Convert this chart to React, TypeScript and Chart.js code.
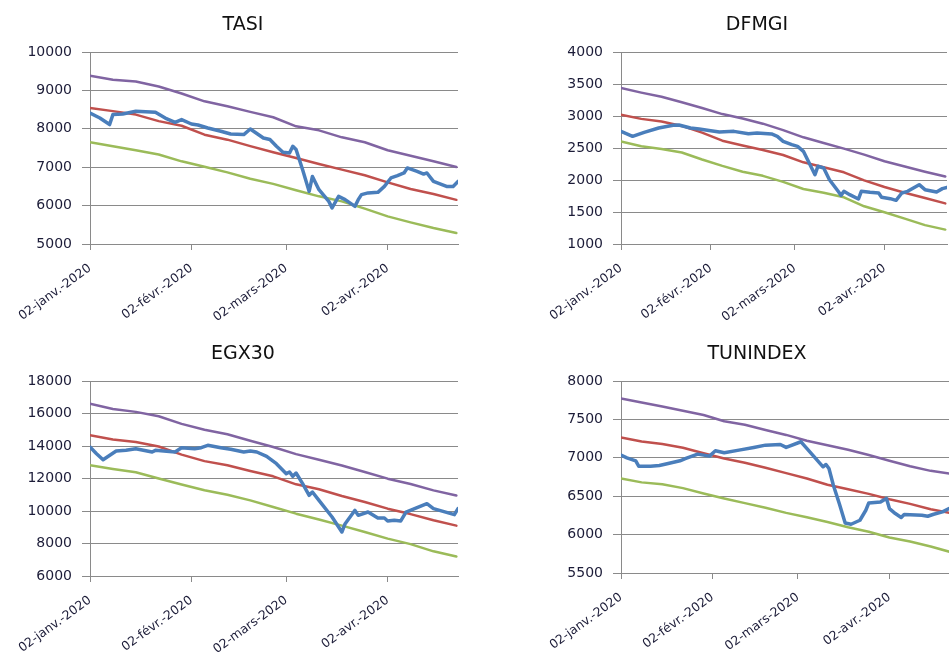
import React, { useEffect, useRef } from 'react';
import { Chart, registerables } from 'chart.js';

Chart.register(...registerables);

// ---- shared axis data ----
// x values are days counted from 02-janv.-2020
const TICK_DAYS = [0, 31, 60, 91];
const TICK_LABELS = ['02-janv.-2020', '02-févr.-2020', '02-mars-2020', '02-avr.-2020'];
const BAND_DAYS = [0, 7, 14, 21, 28, 35, 42, 49, 56, 63, 70, 77, 84, 91, 98, 105, 112];

// ---- TASI ----
const TASI_DAYS = [0, 3, 6, 7, 10, 14, 20, 23, 26, 28, 31, 33, 36, 40, 43, 47, 49, 53, 55, 57, 59, 61, 62, 63, 65, 67, 68, 70, 73, 74, 76, 78, 81, 82, 83, 85, 88, 90, 92, 94, 96, 97, 100, 102, 103, 105, 109, 111, 112.5];
const TASI_CLOSE = [8410, 8280, 8110, 8370, 8385, 8455, 8430, 8280, 8170, 8240, 8125, 8100, 8020, 7935, 7865, 7850, 7995, 7760, 7720, 7545, 7390, 7370, 7545, 7460, 6935, 6370, 6760, 6415, 6110, 5940, 6240, 6155, 5980, 6155, 6285, 6330, 6345, 6500, 6720, 6780, 6850, 6980, 6890, 6820, 6850, 6630, 6500, 6500, 6630];
const TASI_UPPER = [9384, 9280, 9230, 9100, 8920, 8715, 8585, 8440, 8300, 8064, 7960, 7778, 7650, 7440, 7300, 7153, 7005];
const TASI_MID = [8542, 8460, 8370, 8200, 8080, 7847, 7717, 7550, 7390, 7240, 7083, 6936, 6790, 6606, 6432, 6302, 6150];
const TASI_LOWER = [7648, 7545, 7440, 7330, 7153, 7010, 6866, 6700, 6565, 6400, 6241, 6110, 5920, 5720, 5564, 5417, 5286];

// ---- DFMGI ----
const DFMGI_DAYS = [0, 4, 5, 8, 13, 18, 20, 24, 27, 31, 34, 39, 44, 47, 52, 54, 56, 59, 61, 63, 65, 67, 68, 70, 72, 75, 76, 77, 79, 82, 83, 86, 89, 90, 93, 95, 97, 99, 101, 103, 105, 109, 111, 112.6];
const DFMGI_CLOSE = [2760, 2682, 2698, 2745, 2812, 2854, 2859, 2812, 2797, 2771, 2750, 2760, 2724, 2734, 2719, 2682, 2604, 2552, 2526, 2448, 2266, 2083, 2214, 2188, 2005, 1823, 1760, 1823, 1771, 1703, 1823, 1807, 1797, 1729, 1708, 1682, 1797, 1823, 1875, 1927, 1849, 1813, 1865, 1885];
const DFMGI_UPPER = [3437, 3365, 3300, 3215, 3125, 3030, 2960, 2880, 2780, 2667, 2578, 2490, 2396, 2292, 2210, 2130, 2055];
const DFMGI_MID = [3021, 2955, 2915, 2845, 2740, 2614, 2540, 2470, 2390, 2276, 2200, 2120, 1995, 1891, 1800, 1719, 1635];
const DFMGI_LOWER = [2604, 2526, 2484, 2430, 2320, 2220, 2130, 2065, 1970, 1859, 1800, 1730, 1589, 1495, 1396, 1295, 1225];

// ---- EGX30 ----
const EGX_DAYS = [0, 2, 4, 8, 11, 14, 19, 20, 26, 28, 32, 34, 36, 40, 43, 47, 49, 51, 54, 57, 60, 61, 62, 63, 65, 67, 68, 70, 74, 77, 78, 81, 82, 85, 88, 90, 91, 93, 95, 96.6, 103, 105, 111.4, 112.5];
const EGX_CLOSE = [13938, 13528, 13159, 13692, 13733, 13836, 13631, 13733, 13631, 13897, 13836, 13897, 14041, 13897, 13795, 13631, 13692, 13631, 13364, 12913, 12297, 12400, 12133, 12338, 11682, 10964, 11169, 10656, 9631, 8708, 9220, 10041, 9733, 9938, 9569, 9569, 9385, 9426, 9385, 9938, 10451, 10144, 9774, 10144];
const EGX_UPPER = [16605, 16280, 16100, 15830, 15360, 15000, 14720, 14320, 13938, 13500, 13150, 12800, 12400, 11990, 11660, 11270, 10950];
const EGX_MID = [14656, 14400, 14250, 13970, 13470, 13070, 12810, 12461, 12133, 11641, 11340, 10923, 10554, 10144, 9810, 9426, 9100];
const EGX_LOWER = [12810, 12580, 12380, 12000, 11630, 11272, 11000, 10656, 10250, 9836, 9480, 9100, 8708, 8300, 7960, 7518, 7200];

// ---- TUNINDEX ----
const TUN_DAYS = [0, 2, 5, 6, 10, 13, 16, 20, 22, 26, 30, 32, 35, 40, 45, 49, 54, 56, 61, 62, 65, 68.5, 69.5, 70.5, 72, 74, 76, 78, 81, 83, 84, 88, 90, 91, 93, 95, 96, 102, 104, 106, 109, 111.2];
const TUN_CLOSE = [7035, 7000, 6961, 6891, 6891, 6900, 6926, 6961, 6991, 7048, 7022, 7091, 7065, 7100, 7135, 7165, 7174, 7135, 7209, 7165, 7035, 6883, 6913, 6861, 6643, 6404, 6152, 6135, 6187, 6317, 6413, 6426, 6470, 6339, 6274, 6222, 6261, 6252, 6239, 6265, 6296, 6339];
const TUN_UPPER = [7774, 7720, 7668, 7613, 7557, 7475, 7430, 7362, 7298, 7222, 7163, 7105, 7036, 6962, 6890, 6830, 6790];
const TUN_MID = [7265, 7212, 7180, 7130, 7060, 6990, 6935, 6870, 6800, 6730, 6650, 6590, 6530, 6460, 6400, 6330, 6280];
const TUN_LOWER = [6730, 6680, 6655, 6605, 6535, 6470, 6410, 6350, 6283, 6225, 6163, 6096, 6038, 5962, 5910, 5845, 5770];

const FONT = "'DejaVu Sans', sans-serif";
const GRID = '#8a8a8a';
const TEXT = '#1c1c38';
const BLUE = '#4a7ebb';
const RED = '#c0504d';
const PURPLE = '#8064a2';
const GREEN = '#9bbb59';

type Spec = {
  title: string;
  days: number[];
  close: number[];
  upper: number[];
  mid: number[];
  lower: number[];
  yMin: number;
  yMax: number;
  yStep: number;
  xMax: number;
  left: number;
  top: number;
  w: number;
  h: number;
  padLeft: number;
  plotLeft: number;
  plotRight: number;
  plotTop: number;
  plotBottom: number;
  titleCenterY: number;
};

const TITLE_SIZE = 19;
const TITLE_LH = 1.2;

function Panel({ spec }: { spec: Spec }) {
  const ref = useRef<HTMLCanvasElement | null>(null);
  useEffect(() => {
    const pts = (d: number[], v: number[]) => d.map((x, i) => ({ x, y: v[i] }));
    const titleH = TITLE_SIZE * TITLE_LH;
    const padTop = spec.titleCenterY - titleH / 2;
    const padBottom = spec.plotTop - padTop - titleH;
    const chart = new Chart(ref.current as HTMLCanvasElement, {
      type: 'line',
      data: {
        datasets: [
          { data: pts(spec.days, spec.close), borderColor: BLUE, borderWidth: 3.5 },
          { data: pts(BAND_DAYS, spec.mid), borderColor: RED, borderWidth: 2.5 },
          { data: pts(BAND_DAYS, spec.upper), borderColor: PURPLE, borderWidth: 2.5 },
          { data: pts(BAND_DAYS, spec.lower), borderColor: GREEN, borderWidth: 2.5 },
        ],
      },
      options: {
        animation: false,
        responsive: true,
        maintainAspectRatio: false,
        elements: {
          point: { radius: 0 },
          line: { tension: 0, borderJoinStyle: 'round', borderCapStyle: 'round', fill: false },
        },
        layout: { padding: { left: spec.padLeft, top: 0, right: spec.w - spec.plotRight, bottom: 0 } },
        plugins: {
          legend: { display: false },
          tooltip: { enabled: false },
          title: {
            display: true,
            text: spec.title,
            color: '#111111',
            font: { family: FONT, size: TITLE_SIZE, weight: 'normal', lineHeight: TITLE_LH },
            padding: { top: padTop, bottom: padBottom },
          },
        },
        scales: {
          x: {
            type: 'linear',
            min: 0,
            max: spec.xMax,
            afterBuildTicks: (s: any) => {
              s.ticks = TICK_DAYS.map((v) => ({ value: v }));
            },
            ticks: {
              autoSkip: false,
              minRotation: 36,
              maxRotation: 36,
              padding: 11,
              color: TEXT,
              font: { family: FONT, size: 12.5 },
              callback: (v: any) => {
                const i = TICK_DAYS.indexOf(Number(v));
                return i >= 0 ? TICK_LABELS[i] : '';
              },
            },
            grid: { drawOnChartArea: false, drawTicks: true, tickLength: 6, color: GRID },
            border: { display: true, color: GRID, width: 1 },
            afterFit: (s: any) => {
              s.height = spec.h - spec.plotBottom;
              s.paddingLeft = 0;
              s.paddingRight = 0;
            },
          },
          y: {
            type: 'linear',
            min: spec.yMin,
            max: spec.yMax,
            ticks: {
              stepSize: spec.yStep,
              padding: 10,
              color: TEXT,
              font: { family: FONT, size: 14 },
              callback: (v: any) => String(v),
            },
            grid: { color: GRID, tickLength: 8, lineWidth: 1 },
            border: { display: true, color: GRID, width: 1 },
            afterFit: (s: any) => {
              s.width = spec.plotLeft - spec.padLeft;
              s.paddingTop = 0;
              s.paddingBottom = 0;
            },
          },
        },
      } as any,
    });
    return () => chart.destroy();
  }, [spec]);
  return (
    <div style={{ position: 'absolute', left: spec.left, top: spec.top, width: spec.w, height: spec.h }}>
      <canvas ref={ref} />
    </div>
  );
}

const PANELS: Spec[] = [
  {
    title: 'TASI', days: TASI_DAYS, close: TASI_CLOSE, upper: TASI_UPPER, mid: TASI_MID, lower: TASI_LOWER,
    yMin: 5000, yMax: 10000, yStep: 500, xMax: 112.5,
    left: 0, top: 0, w: 480, h: 330, padLeft: 28, plotLeft: 90, plotRight: 458, plotTop: 52, plotBottom: 244, titleCenterY: 25.5,
  },
  {
    title: 'DFMGI', days: DFMGI_DAYS, close: DFMGI_CLOSE, upper: DFMGI_UPPER, mid: DFMGI_MID, lower: DFMGI_LOWER,
    yMin: 1000, yMax: 4000, yStep: 500, xMax: 112.6,
    left: 480, top: 0, w: 474, h: 330, padLeft: 87, plotLeft: 141, plotRight: 467, plotTop: 52, plotBottom: 244, titleCenterY: 25.5,
  },
  {
    title: 'EGX30', days: EGX_DAYS, close: EGX_CLOSE, upper: EGX_UPPER, mid: EGX_MID, lower: EGX_LOWER,
    yMin: 6000, yMax: 18000, yStep: 2000, xMax: 112.5,
    left: 0, top: 330, w: 480, h: 323, padLeft: 28, plotLeft: 90, plotRight: 458, plotTop: 51, plotBottom: 246, titleCenterY: 24.5,
  },
  {
    title: 'TUNINDEX', days: TUN_DAYS, close: TUN_CLOSE, upper: TUN_UPPER, mid: TUN_MID, lower: TUN_LOWER,
    yMin: 5500, yMax: 8000, yStep: 500, xMax: 111.2,
    left: 480, top: 330, w: 474, h: 323, padLeft: 85, plotLeft: 141, plotRight: 469, plotTop: 51, plotBottom: 243, titleCenterY: 24.5,
  },
];

export default function App() {
  return (
    <div
      style={{
        position: 'fixed',
        left: 0,
        top: 0,
        width: 949,
        height: 653,
        overflow: 'hidden',
        background: '#ffffff',
      }}
    >
      {PANELS.map((p) => (
        <Panel key={p.title} spec={p} />
      ))}
    </div>
  );
}
